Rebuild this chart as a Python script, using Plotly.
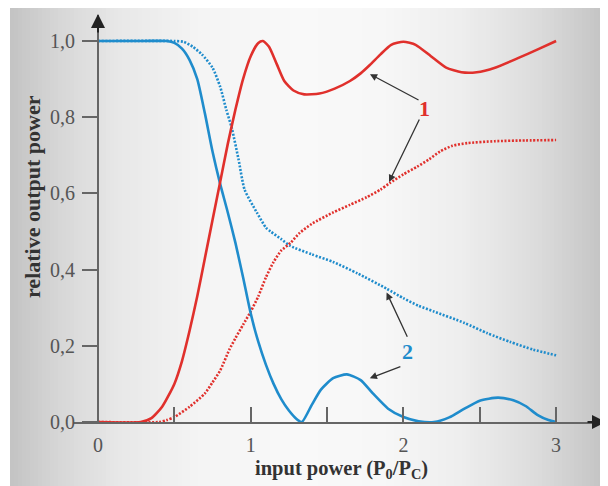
import plotly.graph_objects as go

# ---------------- data ----------------
blue_solid_x = [0, 0.3, 0.45, 0.5, 0.55, 0.6, 0.65, 0.7, 0.75, 0.8, 0.85, 0.9, 0.95, 1.0, 1.05, 1.1,
                1.15, 1.2, 1.25, 1.3, 1.335, 1.4, 1.46, 1.54, 1.63, 1.72, 1.8, 1.9, 2.0, 2.1, 2.2,
                2.3, 2.4, 2.5, 2.62, 2.72, 2.8, 2.88, 2.95, 3.0]
blue_solid_y = [1.0, 1.0, 1.0, 0.995, 0.98, 0.95, 0.90, 0.81, 0.71, 0.625, 0.55, 0.47, 0.38, 0.285, 0.21, 0.15,
                0.10, 0.06, 0.03, 0.008, 0.0, 0.045, 0.085, 0.115, 0.125, 0.11, 0.075, 0.035, 0.013, 0.002, 0.0,
                0.012, 0.035, 0.056, 0.064, 0.057, 0.042, 0.018, 0.005, 0.0]

blue_dot_x = [0, 0.5, 0.56, 0.62, 0.68, 0.75, 0.8, 0.84, 0.877, 0.92, 0.96, 1.04, 1.1, 1.13, 1.2, 1.26,
              1.4, 1.54, 1.7, 1.89, 2.0, 2.1, 2.2, 2.4, 2.55, 2.7, 2.85, 3.0]
blue_dot_y = [1.0, 1.0, 0.998, 0.985, 0.965, 0.93, 0.88, 0.82, 0.77, 0.69, 0.61, 0.55, 0.51, 0.50, 0.48, 0.462,
              0.44, 0.42, 0.39, 0.35, 0.325, 0.305, 0.29, 0.26, 0.233, 0.21, 0.19, 0.175]

red_solid_x = [0, 0.28, 0.35, 0.42, 0.5, 0.55, 0.6, 0.65, 0.7, 0.75, 0.8, 0.85, 0.9, 0.95, 1.0, 1.05, 1.08,
               1.12, 1.17, 1.22, 1.28, 1.35, 1.45, 1.55, 1.65, 1.72, 1.78, 1.85, 1.92, 2.0, 2.08, 2.18,
               2.28, 2.38, 2.48, 2.6, 2.75, 2.88, 3.0]
red_solid_y = [0, 0, 0.01, 0.04, 0.10, 0.16, 0.24, 0.33, 0.43, 0.53, 0.63, 0.73, 0.82, 0.90, 0.96, 0.995, 1.0,
               0.985, 0.94, 0.895, 0.87, 0.86, 0.862, 0.875, 0.895, 0.915, 0.937, 0.965, 0.99, 0.998, 0.99, 0.96,
               0.93, 0.918, 0.918, 0.93, 0.955, 0.978, 1.0]

red_dot_x = [0, 0.4, 0.45, 0.5, 0.6, 0.7, 0.75, 0.8, 0.86, 0.9, 0.95, 1.0, 1.05, 1.1, 1.15, 1.2, 1.26,
             1.32, 1.4, 1.54, 1.65, 1.76, 1.85, 1.91, 2.0, 2.09, 2.17, 2.24, 2.32, 2.42, 2.6, 2.8, 3.0]
red_dot_y = [0, 0, 0.005, 0.013, 0.04, 0.075, 0.104, 0.135, 0.19, 0.22, 0.255, 0.29, 0.33, 0.38, 0.42, 0.45, 0.47,
             0.496, 0.52, 0.55, 0.57, 0.59, 0.61, 0.627, 0.65, 0.67, 0.69, 0.71, 0.725, 0.732, 0.737, 0.739, 0.74]

y_tick_vals = [0, 0.2, 0.4, 0.6, 0.8, 1.0]
y_tick_text = ["0,0", "0,2", "0,4", "0,6", "0,8", "1,0"]
x_tick_vals = [0, 0.5, 1, 1.5, 2, 2.5, 3]
x_tick_text = ["0", "", "1", "", "2", "", "3"]

BLUE = "#1f8ccc"
RED = "#e0302c"
W, H = 608, 486
OFF = 8  # the page places the figure 8 px right/down; layout pixel positions compensate


def PX(v):
    return (v - OFF) / W


def PY(v):
    return (H - (v - OFF)) / H


fig = go.Figure()
fig.add_trace(go.Scatter(x=blue_dot_x, y=blue_dot_y, mode="lines", line=dict(color=BLUE, width=2.6, dash="2px,1.6px", shape="spline", smoothing=0.6), hoverinfo="skip"))
fig.add_trace(go.Scatter(x=red_dot_x, y=red_dot_y, mode="lines", line=dict(color=RED, width=2.6, dash="2px,1.6px", shape="spline", smoothing=0.6), hoverinfo="skip"))
fig.add_trace(go.Scatter(x=blue_solid_x, y=blue_solid_y, mode="lines", line=dict(color=BLUE, width=2.6, shape="spline", smoothing=0.6), hoverinfo="skip"))
fig.add_trace(go.Scatter(x=red_solid_x, y=red_solid_y, mode="lines", line=dict(color=RED, width=2.6, shape="spline", smoothing=0.6), hoverinfo="skip"))

# background gradient (horizontal), positions in screen pixels of the reference
stops = [(10, 195), (60, 215), (120, 232), (200, 244), (300, 249), (380, 247), (460, 238), (530, 222), (580, 205), (616, 190)]
def bright(px):
    for (a, ca), (b, cb) in zip(stops[:-1], stops[1:]):
        if a <= px <= b:
            return ca + (cb - ca) * (px - a) / (b - a)
    return stops[-1][1]

shapes = []
step = 4
px = 10
while px < W + OFF:
    c = int(round(bright(px + step / 2)))
    shapes.append(dict(type="rect", xref="paper", yref="paper", x0=PX(px), x1=PX(px + step + 0.5),
                       y0=0, y1=1, line=dict(width=0), fillcolor=f"rgb({c},{c},{c})", layer="below"))
    px += step

px_per_x = 152.7
px_per_y = 381.0
x0px, y0px = 98, 422          # reference pixel of the origin
xr = [(73 - x0px) / px_per_x, (605 - x0px) / px_per_x]
yr = [0, (y0px - 15) / px_per_y]

serif = "Liberation Serif, Times New Roman, serif"
AX = "#666666"

annotations = [
    # axis arrowheads
    dict(xref="paper", yref="paper", x=PX(606), y=PY(y0px), ax=-20, ay=0, text="", showarrow=True,
         arrowhead=2, arrowsize=1.4, arrowwidth=2, arrowcolor="#222"),
    dict(xref="paper", yref="paper", x=PX(x0px), y=PY(14), ax=0, ay=20, text="", showarrow=True,
         arrowhead=2, arrowsize=1.4, arrowwidth=2, arrowcolor="#222"),
    # axis titles
    dict(xref="paper", yref="paper", x=PX(341), y=PY(469), xanchor="center", yanchor="middle",
         text="<b>input power (P<sub>0</sub>/P<sub>C</sub>)</b>",
         showarrow=False, font=dict(family=serif, size=20.5, color="#333")),
    dict(xref="paper", yref="paper", x=PX(33), y=PY(197), xanchor="center", yanchor="middle",
         text="<b>relative output power</b>", textangle=-90,
         showarrow=False, font=dict(family=serif, size=22, color="#333")),
    # curve labels
    dict(x=2.14, y=0.824, xanchor="center", yanchor="middle", text="<b>1</b>", showarrow=False,
         font=dict(family=serif, size=22, color=RED)),
    dict(x=2.03, y=0.184, xanchor="center", yanchor="middle", text="<b>2</b>", showarrow=False,
         font=dict(family=serif, size=22, color=BLUE)),
]
arrows = [
    ((2.109, 0.843), (1.781, 0.913)),
    ((2.109, 0.798), (1.906, 0.630)),
    ((2.03, 0.22), (1.89, 0.34)),
    ((1.99, 0.147), (1.78, 0.115)),
]
for (tx, ty), (hx, hy) in arrows:
    annotations.append(dict(x=hx, y=hy, ax=tx, ay=ty, xref="x", yref="y", axref="x", ayref="y", text="",
                            showarrow=True, arrowhead=2, arrowsize=1.1, arrowwidth=1.3, arrowcolor="#333"))

fig.update_layout(
    width=W, height=H,
    margin=dict(l=0, r=0, t=0, b=0, pad=0, autoexpand=False),
    paper_bgcolor="white",
    plot_bgcolor="rgba(0,0,0,0)",
    showlegend=False,
    shapes=shapes,
    annotations=annotations,
    xaxis=dict(domain=[PX(73), PX(605)], range=xr, anchor="y", showgrid=False, zeroline=False, automargin=False,
               showline=True, linecolor=AX, linewidth=2,
               ticks="inside", ticklen=15, tickwidth=1.6, tickcolor=AX,
               tickvals=x_tick_vals, ticktext=x_tick_text, ticklabelstandoff=4,
               tickfont=dict(family=serif, size=20, color="#555")),
    yaxis=dict(domain=[PY(y0px), PY(15)], range=yr, anchor="free", position=PX(x0px), automargin=False,
               showgrid=False, zeroline=False, showline=True, linecolor=AX, linewidth=2,
               ticks="outside", ticklen=15, tickwidth=1.6, tickcolor=AX,
               tickvals=y_tick_vals, ticktext=y_tick_text, ticklabelstandoff=3,
               tickfont=dict(family=serif, size=20, color="#555")),
)

fig.write_html("out.html")
